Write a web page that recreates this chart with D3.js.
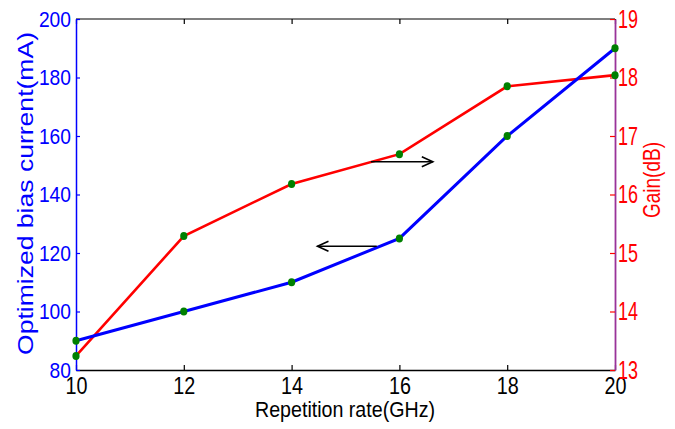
<!DOCTYPE html>
<html>
<head>
<meta charset="utf-8">
<script src="https://cdn.jsdelivr.net/npm/d3@7"></script>
<style>
  body { margin: 0; background: #fff; }
  svg text { font-family: "Liberation Sans", Arial, sans-serif; }
</style>
</head>
<body>
<div id="chart"></div>
<script>
var rates = [10, 12, 14, 16, 18, 20];
var biasCurrent = [90, 100, 110, 125, 160, 190];
var gainDb = [13.24, 15.29, 16.18, 16.69, 17.85, 18.04];
var xTicks = [10, 12, 14, 16, 18, 20];
var leftTicks = [80, 100, 120, 140, 160, 180, 200];
var rightTicks = [13, 14, 15, 16, 17, 18, 19];
// annotation arrows: [from, to, level]
var gainArrow = [15.47, 16.62, 16.56];
var currentArrow = [15.58, 14.48, 122.3];

var W = 675, H = 429;
var margin = { top: 19, right: 60, bottom: 59, left: 76 };

var svg = d3.select("#chart").append("svg")
    .attr("width", W)
    .attr("height", H);

var x = d3.scaleLinear().domain([10, 20]).range([margin.left, W - margin.right]);
var yL = d3.scaleLinear().domain([80, 200]).range([H - margin.bottom, margin.top]);
var yR = d3.scaleLinear().domain([13, 19]).range([H - margin.bottom, margin.top]);

var x0 = x.range()[0], x1 = x.range()[1];
var yBot = yL.range()[0], yTop = yL.range()[1];

// top border with inward ticks
var topAxis = svg.append("g")
    .attr("transform", "translate(0," + yTop + ")")
    .call(d3.axisBottom(x).tickValues(xTicks).tickSize(5).tickFormat(""));
topAxis.selectAll("path,line").attr("stroke", "#000").attr("stroke-width", 1.2);
topAxis.select("path").attr("d", "M" + x0 + ",0H" + x1);

// bottom axis
var xAxis = svg.append("g")
    .attr("transform", "translate(0," + yBot + ")")
    .call(d3.axisBottom(x).tickValues(xTicks).tickSizeInner(-5).tickSizeOuter(0).tickPadding(8));
xAxis.select("path").attr("stroke", "#000").attr("stroke-width", 1.5);
xAxis.selectAll("line").attr("stroke", "#000").attr("stroke-width", 1.2);
xAxis.selectAll("text")
    .attr("fill", "#000")
    .attr("font-size", 23)
    .attr("textLength", 22)
    .attr("lengthAdjust", "spacingAndGlyphs");

// left axis
var leftAxis = svg.append("g")
    .attr("transform", "translate(" + x0 + ",0)")
    .call(d3.axisLeft(yL).tickValues(leftTicks).tickFormat(d3.format("d"))
        .tickSizeInner(-4).tickSizeOuter(0).tickPadding(5));
leftAxis.select("path").attr("stroke", "#0000ff").attr("stroke-width", 1.5);
leftAxis.selectAll("line").attr("stroke", "#0000ff").attr("stroke-width", 1.2);
leftAxis.selectAll("text")
    .attr("fill", "#0000ff")
    .attr("font-size", 22)
    .attr("textLength", function(d) { return String(d).length * 10.7; })
    .attr("lengthAdjust", "spacingAndGlyphs");

// right axis
var rightAxis = svg.append("g")
    .attr("transform", "translate(" + x1 + ",0)")
    .call(d3.axisRight(yR).tickValues(rightTicks).tickFormat(d3.format("d"))
        .tickSizeInner(-5).tickSizeOuter(0).tickPadding(3));
rightAxis.select("path").attr("stroke", "#993399").attr("stroke-width", 1.8);
rightAxis.selectAll("line").attr("stroke", "#ff0000").attr("stroke-width", 1.2);
rightAxis.selectAll("text")
    .attr("fill", "#ff0000")
    .attr("font-size", 25)
    .attr("textLength", 20)
    .attr("lengthAdjust", "spacingAndGlyphs");

// lines
var lineL = d3.line()
    .x(function(d, i) { return x(rates[i]); })
    .y(function(d) { return yL(d); });
var lineR = d3.line()
    .x(function(d, i) { return x(rates[i]); })
    .y(function(d) { return yR(d); });

svg.append("path")
    .attr("d", lineR(gainDb))
    .attr("fill", "none")
    .attr("stroke", "#ff0000")
    .attr("stroke-width", 2.6);

svg.append("path")
    .attr("d", lineL(biasCurrent))
    .attr("fill", "none")
    .attr("stroke", "#0000ff")
    .attr("stroke-width", 3);

// markers
svg.append("g").selectAll("ellipse.b")
    .data(biasCurrent)
    .enter().append("ellipse")
    .attr("cx", function(d, i) { return x(rates[i]); })
    .attr("cy", function(d) { return yL(d); })
    .attr("rx", 3.6).attr("ry", 4)
    .attr("fill", "#008000");

svg.append("g").selectAll("ellipse.r")
    .data(gainDb)
    .enter().append("ellipse")
    .attr("cx", function(d, i) { return x(rates[i]); })
    .attr("cy", function(d) { return yR(d); })
    .attr("rx", 3.6).attr("ry", 4)
    .attr("fill", "#008000");

// arrows
function drawArrow(xa, xb, yy) {
    var g = svg.append("g").attr("stroke", "#000").attr("fill", "none");
    g.append("line")
        .attr("x1", xa).attr("x2", xb)
        .attr("y1", yy).attr("y2", yy)
        .attr("stroke-width", 1.5);
    var dir = xb > xa ? -1 : 1;
    g.append("path")
        .attr("d", "M" + (xb + dir * 11) + "," + (yy - 5) + "L" + xb + "," + yy + "L" + (xb + dir * 11) + "," + (yy + 5))
        .attr("stroke-width", 1.6);
}
drawArrow(x(gainArrow[0]), x(gainArrow[1]), yR(gainArrow[2]));
drawArrow(x(currentArrow[0]), x(currentArrow[1]), yL(currentArrow[2]));

// axis titles
svg.append("text")
    .attr("transform", "translate(33," + 193.5 + ") rotate(-90)")
    .attr("text-anchor", "middle")
    .attr("fill", "#0000ff")
    .attr("font-size", 22)
    .attr("textLength", 323)
    .attr("lengthAdjust", "spacingAndGlyphs")
    .text("Optimized bias current(mA)");

svg.append("text")
    .attr("transform", "translate(660,180) rotate(-90)")
    .attr("text-anchor", "middle")
    .attr("fill", "#ff0000")
    .attr("font-size", 24)
    .attr("textLength", 76)
    .attr("lengthAdjust", "spacingAndGlyphs")
    .text("Gain(dB)");

svg.append("text")
    .attr("x", 345)
    .attr("y", 417)
    .attr("text-anchor", "middle")
    .attr("fill", "#000")
    .attr("font-size", 22)
    .attr("textLength", 180)
    .attr("lengthAdjust", "spacingAndGlyphs")
    .text("Repetition rate(GHz)");
</script>
</body>
</html>
